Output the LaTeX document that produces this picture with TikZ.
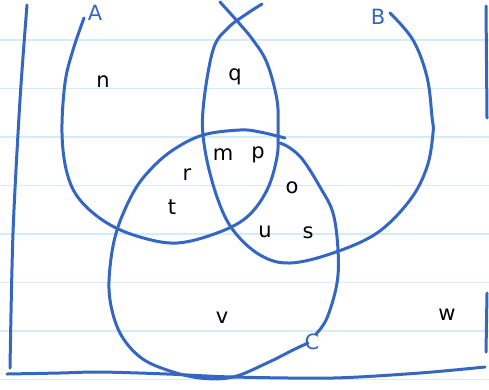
\documentclass[tikz,border=0pt]{standalone}
\usepackage{fontspec}
\setmainfont{DejaVu Sans}
\usepackage{tikz}
\definecolor{ink}{HTML}{3566C2}
\definecolor{ruled}{HTML}{D4EBF8}

\begin{document}
\begin{tikzpicture}[
  x=1pt, y=-1pt,
  every node/.style={font=\fontsize{21}{23}\selectfont, inner sep=0pt},
  pen/.style={draw=ink, line width=3pt, line cap=round, line join=round},
  ruling/.style={draw=ruled, line width=1.2pt},
  elem/.style={text=black},
  setname/.style={text=ink}
]
\useasboundingbox (0,0) rectangle (489,389);
% notebook ruling
\foreach \k in {0,...,7}
  \draw[ruling] (0,{40+48.5*\k}) -- (489,{40+48.5*\k});
% frame
\draw[pen] plot[smooth] coordinates {(27,5) (20,100) (13,233) (10,368)};
\draw[pen] plot[smooth] coordinates {(7,374) (60,373) (100,372) (167,374) (233,377) (333,378) (420,373) (485,367)};
\draw[pen] (486,6) -- (487,118);
\draw[pen] (487,293) -- (486,352);
% set A
\draw[pen] plot[smooth, tension=0.6] coordinates {(84,18) (73,50) (65,83) (62,133) (67,173) (80,200) (107,223) (140,237) (177,243) (217,233) (247,217) (267,190) (277,157) (278,130) (277,100) (267,63) (253,40) (238,22) (220,2)};
% set B
\draw[pen] plot[smooth, tension=0.6] coordinates {(390,13) (413,40) (427,77) (432,117) (433,133) (427,167) (410,200) (377,233) (333,253) (290,263) (260,255) (233,230) (217,197) (205,150) (203,110) (213,50) (228,28) (245,15) (262,4)};
% set C
\draw[pen] plot[smooth, tension=0.6] coordinates {(285,138) (260,132) (240,130) (203,135) (173,150) (150,170) (133,193) (117,230) (110,267) (110,300) (120,333) (140,357) (167,370) (200,378) (233,377) (267,363) (293,350) (308,343)};
\draw[pen] plot[smooth, tension=0.6] coordinates {(316,334) (327,318) (337,283) (338,250) (333,213) (320,187) (303,160) (290,148) (280,143)};
% set names
\node[setname] (nameA) at (95,13) {A};
\node[setname] (nameB) at (378,17) {B};
\node[setname] (nameC) at (312,342) {C};
% elements
\node[elem] (n) at (103,82) {n};
\node[elem] (q) at (235,77) {q};
\node[elem] (r) at (187,175) {r};
\node[elem] (m) at (223,155) {m};
\node[elem] (p) at (258,155) {p};
\node[elem] (t) at (172,207) {t};
\node[elem] (o) at (292,188) {o};
\node[elem] (u) at (265,232) {u};
\node[elem] (s) at (308,233) {s};
\node[elem] (v) at (222,318) {v};
\node[elem] (w) at (447,315) {w};
\end{tikzpicture}
\end{document}
